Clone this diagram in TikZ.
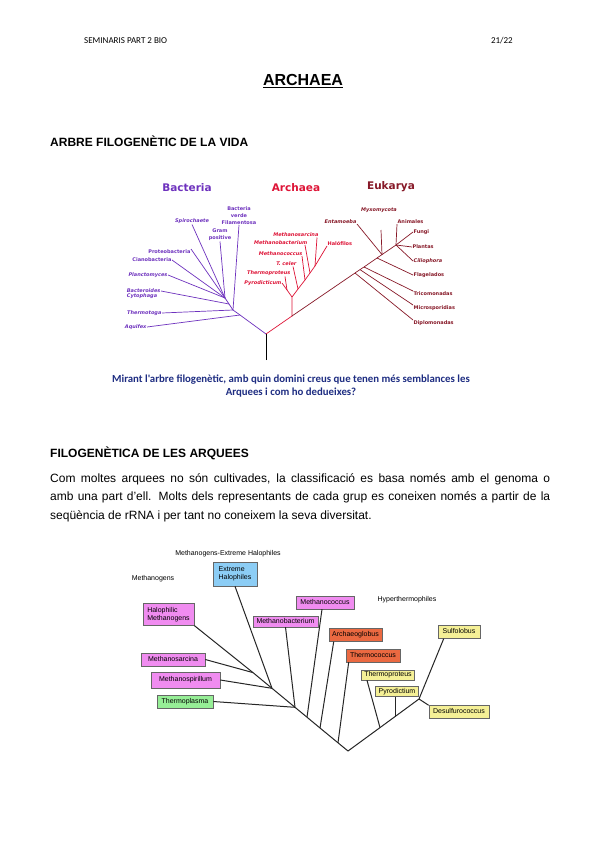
\documentclass[tikz,border=0pt]{standalone}
\usepackage{fontspec}
\setmainfont{Liberation Sans}
\newfontfamily\califont{Carlito}
\newfontfamily\verafont{DejaVu Sans}
\usetikzlibrary{arrows}

\definecolor{bactcol}{RGB}{110,50,190}
\definecolor{archcol}{RGB}{222,20,55}
\definecolor{eukcol}{RGB}{135,25,40}
\definecolor{asknavy}{RGB}{30,45,130}
\definecolor{methpink}{RGB}{240,140,240}
\definecolor{halblue}{RGB}{140,205,245}
\definecolor{hotorange}{RGB}{235,105,65}
\definecolor{hotyellow}{RGB}{245,240,150}
\definecolor{plasgreen}{RGB}{150,238,150}

\tikzset{
  tinylab/.style={inner sep=0.4pt, align=left, font=\verafont\bfseries\fontsize{5}{7}\selectfont},
  bactlab/.style={tinylab, text=bactcol},
  archlab/.style={tinylab, text=archcol},
  euklab/.style={tinylab, text=eukcol},
  domlab/.style={font=\verafont\bfseries\fontsize{10.5}{12}\selectfont},
  bactline/.style={bactcol, line width=0.7pt},
  archline/.style={archcol, line width=0.7pt},
  eukline/.style={eukcol, line width=0.7pt},
  boxbase/.style={draw=black!60, line width=0.6pt, inner xsep=3pt, align=left,
    font=\fontsize{7}{8}\selectfont},
  gbox/.style={boxbase, inner ysep=3pt, text height=5.2pt, text depth=1.6pt},
  gbox2/.style={boxbase, inner ysep=3.5pt},
  limb/.style={line width=1pt, black!85},
  groupname/.style={font=\fontsize{7}{8}\selectfont}
}

\begin{document}
\begin{tikzpicture}[x=1pt,y=-1pt]
    \fill[white] (0,0) rectangle (599,848);
    \useasboundingbox (0,0) rectangle (599,848);

    % capçalera
    \node[anchor=west, inner sep=0pt, font=\califont\fontsize{9}{10}\selectfont] (hdl) at (84,41) {SEMINARIS PART 2 BIO};
    \node[anchor=east, inner sep=0pt, font=\califont\fontsize{9}{10}\selectfont] (hdr) at (513,41) {21/22};
    \node[font=\bfseries\fontsize{16}{18}\selectfont] (tit) at (303,81) {\underline{ARCHAEA}};
    \node[anchor=west, inner sep=0pt, font=\bfseries\fontsize{12}{14}\selectfont] (sec1) at (50,141) {ARBRE FILOGENÈTIC DE LA VIDA};

    % arbre de la vida
    \node[domlab, text=bactcol] (bact) at (187,188) {Bacteria};
    \node[domlab, text=archcol] (arch) at (296,188) {Archaea};
    \node[domlab, text=eukcol] (euk) at (391,187) {Eukarya};

    \coordinate (root) at (266,360);
    \coordinate (top) at (266,334);
    \coordinate (B1) at (240,315);
    \coordinate (B2) at (233,310);
    \coordinate (B3) at (229,304);
    \coordinate (B4) at (225,298);
    \coordinate (A0) at (292,316);
    \coordinate (A1) at (292,297);
    \coordinate (A2) at (287,290);
    \coordinate (AT) at (298,289);
    \coordinate (AM) at (305,280);
    \coordinate (AB) at (310,273);
    \coordinate (AS) at (315,266);
    \coordinate (E1) at (355,273);
    \coordinate (E2) at (360,269.6);
    \coordinate (E3) at (364,267);
    \coordinate (E4) at (377,258);
    \coordinate (E5) at (382,254.6);
    \coordinate (EJ) at (396,245);
    \coordinate (myxtip) at (381,230);

    % bacteris
    \node[bactlab, anchor=east, font=\verafont\bfseries\itshape\fontsize{5}{7}\selectfont] (aqu) at (147,327) {Aquifex};
    \node[bactlab, anchor=east, font=\verafont\bfseries\itshape\fontsize{5}{7}\selectfont] (tmt) at (162,313) {Thermotoga};
    \node[bactlab, anchor=east, font=\verafont\bfseries\itshape\fontsize{5}{7}\selectfont] (bcd) at (161,291) {Bacteroides};
    \node[bactlab, anchor=north west, font=\verafont\bfseries\itshape\fontsize{5}{7}\selectfont] (cyt) at (bcd.south west) {Cytophaga};
    \node[bactlab, anchor=east, font=\verafont\bfseries\itshape\fontsize{5}{7}\selectfont] (plc) at (168,275) {Planctomyces};
    \node[bactlab, anchor=east] (cia) at (172,260) {Cianobacteria};
    \node[bactlab, anchor=north east] (pro) at (191,249) {Proteobacteria};
    \node[bactlab, anchor=south, font=\verafont\bfseries\itshape\fontsize{5}{7}\selectfont] (spi) at (192,224.5) {Spirochaete};
    \node[bactlab, anchor=south, align=center] (gra) at (220,241.5) {Gram\\positive};
    \node[bactlab, anchor=south, align=center] (bve) at (239,225) {Bacteria\\verde\\Filamentosa};

    \draw[bactline] (top) -- (B1) -- (B2) -- (B3) -- (B4);
    \draw[bactline] (aqu.east) -- (B1);
    \draw[bactline] (tmt.east) -- (B2);
    \draw[bactline] (bcd.east) -- (B3);
    \foreach \lab in {plc.east, cia.east, pro.north east, spi.south, gra.south}
        \draw[bactline] (\lab) -- (B4);
    \draw[bactline] (bve.south) -- (B2);

    % arquees
    \node[archlab, anchor=south west] (hal) at (327,246) {Halófilos};
    \node[archlab, anchor=south east, font=\verafont\bfseries\itshape\fontsize{5}{7}\selectfont] (msc) at (319,237.5) {Methanosarcina};
    \node[archlab, anchor=south east, font=\verafont\bfseries\itshape\fontsize{5}{7}\selectfont] (mbc) at (308,245) {Methanobacterium};
    \node[archlab, anchor=south east, font=\verafont\bfseries\itshape\fontsize{5}{7}\selectfont] (mcc) at (303,256) {Methanococcus};
    \node[archlab, anchor=south east, font=\verafont\bfseries\itshape\fontsize{5}{7}\selectfont] (tce) at (297,266.5) {T. celer};
    \node[archlab, anchor=south east, font=\verafont\bfseries\itshape\fontsize{5}{7}\selectfont] (tpr) at (291,276.5) {Thermoproteus};
    \node[archlab, anchor=east, font=\verafont\bfseries\itshape\fontsize{5}{7}\selectfont] (pyr) at (282,283) {Pyrodicticum};

    \draw[archline] (top) -- (A0) -- (A1) -- (AT) -- (AM) -- (AB) -- (AS) -- (hal.south west);
    \draw[archline] (A1) -- (A2) -- ([xshift=-6pt]tpr.south east);
    \draw[archline] (A2) -- (pyr.east);
    \draw[archline] ([xshift=-2pt]msc.south east) -- (AS);
    \draw[archline] ([xshift=-3pt]mbc.south east) -- (AB);
    \draw[archline] ([xshift=-1pt]mcc.south east) -- (AM);
    \draw[archline] ([xshift=-4pt]tce.south east) -- (AT);

    % eucariotes
    \node[euklab, anchor=south east, font=\verafont\bfseries\itshape\fontsize{5}{7}\selectfont] (ent) at (357,224) {Entamoeba};
    \node[euklab, font=\verafont\bfseries\itshape\fontsize{5}{7}\selectfont] (myx) at (379,210) {Myxomycota};
    \node[euklab, anchor=north west] (ani) at (397,219) {Animales};
    \node[euklab, anchor=west] (fun) at (413,232) {Fungi};
    \node[euklab, anchor=west] (plt) at (412,247) {Plantas};
    \node[euklab, anchor=west, font=\verafont\bfseries\itshape\fontsize{5}{7}\selectfont] (cil) at (413,261) {Ciliophora};
    \node[euklab, anchor=west] (fla) at (413,275) {Flagelados};
    \node[euklab, anchor=north west] (tri) at (413,291) {Tricomonadas};
    \node[euklab, anchor=north west] (mic) at (413,305) {Microsporidias};
    \node[euklab, anchor=north west] (dip) at (413,320) {Diplomonadas};

    \draw[eukline] (A0) -- (E1) -- (E2) -- (E3) -- (E4) -- (E5) -- (EJ);
    \draw[eukline] (E1) -- (dip.north west);
    \draw[eukline] (E2) -- (mic.north west);
    \draw[eukline] (E3) -- (tri.north west);
    \draw[eukline] (E4) -- (fla.west);
    \draw[eukline] (E5) -- (ent.south east);
    \draw[eukline] (E5) -- (myxtip);
    \foreach \lab in {ani.south west, fun.west, plt.west, cil.west}
        \draw[eukline] (EJ) -- (\lab);

    \draw[line width=0.8pt] (root) -- (top);

    % pregunta
    \node[font=\califont\bfseries\fontsize{10.8}{13}\selectfont, text=asknavy, align=center] (ask) at (291,386.5)
        {Mirant l'arbre filogenètic, amb quin domini creus que tenen més semblances les\\Arquees i com ho dedueixes?};

    % filogenètica
    \node[anchor=west, inner sep=0pt, font=\bfseries\fontsize{12}{14}\selectfont] (sec2) at (50,453) {FILOGENÈTICA DE LES ARQUEES};
    \node[anchor=north west, text width=500pt, align=justify, inner sep=0pt, font=\fontsize{12}{18.5}\selectfont] (txt) at (50,473)
        {\hyphenpenalty=10000 Com moltes arquees no són cultivades, la classificació es basa només amb el genoma o\linebreak
         amb una part d'ell. Molts dels representants de cada grup es coneixen només a partir de la\linebreak
         seqüència de rRNA i per tant no coneixem la seva diversitat.};

    % arbre de les arquees
    \node[groupname] (gmeh) at (228,554) {Methanogens-Extreme Halophiles};
    \node[groupname] (gmet) at (153,579) {Methanogens};
    \node[groupname] (ghyp) at (407,600) {Hyperthermophiles};

    \node[gbox2, fill=halblue, minimum width=44pt, minimum height=24pt] (ext) at (235,574) {Extreme\\Halophiles};
    \node[gbox2, fill=methpink, minimum width=51pt, minimum height=21pt] (hme) at (168.5,614.5) {Halophilic\\Methanogens};
    \node[gbox, fill=methpink, minimum width=64pt] (msa) at (173,659.5) {Methanosarcina};
    \node[gbox, fill=methpink, minimum width=69pt, minimum height=16pt] (msp) at (185.5,680) {Methanospirillum};
    \node[gbox, fill=plasgreen, minimum width=56pt] (tpl) at (185,701.5) {Thermoplasma};
    \node[gbox, fill=methpink, minimum width=65pt, inner ysep=2pt] (mba) at (285.5,621.5) {Methanobacterium};
    \node[gbox, fill=methpink, minimum width=58pt] (mco) at (325,602.5) {Methanococcus};
    \node[gbox, fill=hotorange, minimum width=53pt] (arc) at (355.5,635) {Archaeoglobus};
    \node[gbox, fill=hotorange, minimum width=54pt] (thc) at (373,655.5) {Thermococcus};
    \node[gbox, fill=hotyellow, minimum width=52pt, inner ysep=1.5pt] (tpt) at (388,675) {Thermoproteus};
    \node[gbox, fill=hotyellow, minimum width=42pt, inner ysep=1.5pt] (pyd) at (397,691.5) {Pyrodictium};
    \node[gbox, fill=hotyellow, minimum width=42pt] (sul) at (459,632) {Sulfolobus};
    \node[gbox, fill=hotyellow, minimum width=60pt] (des) at (459,712) {Desulfurococcus};

    \coordinate (L0) at (348,751);
    \coordinate (L1) at (338,742.8);
    \coordinate (L2) at (320,728);
    \coordinate (L3) at (307,717.2);
    \coordinate (L4) at (295,707.3);
    \coordinate (L5) at (272,688.3);
    \coordinate (L6) at (253,672.6);
    \coordinate (R1) at (380,727.6);
    \coordinate (R2) at (395,716.6);
    \coordinate (R3) at (419,699);

    \draw[limb] (L0) -- (L1) -- (L2) -- (L3) -- (L4) -- (L5) -- (L6) -- (hme.south east);
    \draw[limb] (L0) -- (R1) -- (R2) -- (R3) -- ([xshift=6pt]sul.south west);
    \draw[limb] (msa.east) -- (L6);
    \draw[limb] (msp.east) -- (L5);
    \draw[limb] (ext.south) -- (L5);
    \draw[limb] (tpl.east) -- (L4);
    \draw[limb] (mba.south) -- (L4);
    \draw[limb] ([xshift=-3pt]mco.south) -- (L3);
    \draw[limb] ([xshift=5pt]arc.south west) -- (L2);
    \draw[limb] ([xshift=3pt]thc.south west) -- (L1);
    \draw[limb] ([xshift=6pt]tpt.south west) -- (R1);
    \draw[limb] ([xshift=-2pt]pyd.south) -- (R2);
    \draw[limb] (R3) -- (des.north west);
\end{tikzpicture}
\end{document}
